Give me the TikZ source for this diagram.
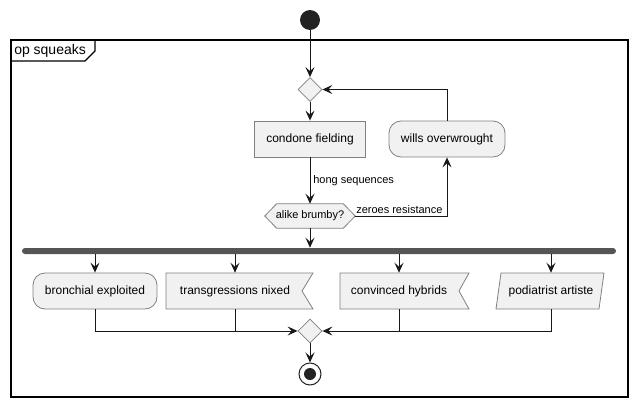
\documentclass[tikz,border=0pt]{standalone}
\usepackage{fontspec}
\setmainfont{Liberation Sans}
\usetikzlibrary{arrows.meta,shapes.geometric,backgrounds,calc}
\definecolor{actfill}{HTML}{F1F1F1}
\definecolor{actline}{HTML}{181818}
\definecolor{boxline}{HTML}{808080}
\definecolor{dotcol}{HTML}{222222}
\definecolor{barcol}{HTML}{555555}
\begin{document}
\begin{tikzpicture}[x=0.75pt,y=-0.75pt,
  actfont/.style={font=\fontsize{9}{11}\selectfont},
  lblfont/.style={font=\fontsize{8.25}{10}\selectfont},
  act/.style={draw=boxline, line width=0.6pt, fill=actfill, minimum height=27pt, inner sep=0pt, actfont},
  txtnode/.style={minimum height=27pt, inner sep=0pt, actfont},
  shapeout/.style={draw=boxline, line width=0.6pt, fill=actfill},
  arr/.style={draw=actline, line width=0.75pt, -{Stealth[length=7.5pt,width=6.75pt,inset=3pt]}},
  link/.style={draw=actline, line width=0.75pt},
  merge/.style={diamond, draw=boxline, line width=0.6pt, fill=actfill, minimum width=18pt, minimum height=18pt, inner sep=0pt},
  lbl/.style={lblfont, inner sep=0pt}
]
\useasboundingbox (0,0) rectangle (636,407);

% frame
\draw[line width=1.1pt] (11,40) rectangle (628,397);
\draw[line width=1pt] (11,61) -- (85,61) -- (95,51) -- (95,40);
\node[anchor=west, font=\fontsize{10.5}{12}\selectfont, inner sep=0pt] (ftitle) at (14,51) {op squeaks};

% nodes
\node[circle, fill=dotcol, minimum size=15pt, inner sep=0pt] (start) at (310,20) {};
\node[merge] (m1) at (310,89.5) {};
\node[act, minimum width=83.25pt] (cond) at (310,139) {condone fielding};
\node[act, rounded corners=9pt, minimum width=87pt] (wills) at (447,139) {wills overwrought};
\node[minimum width=67.5pt, minimum height=18pt, inner sep=0pt, lblfont] (hex) at (310,216) {alike brumby?};
\node[fill=barcol, rounded corners=2.25pt, minimum width=445.5pt, minimum height=4.5pt, inner sep=0pt] (fork) at (319,251) {};

\node[act, rounded corners=9pt, minimum width=93pt] (bronc) at (95,291) {bronchial exploited};
\node[txtnode] (trans) at (235,291) {transgressions nixed};
\node[txtnode] (conv) at (399,291) {convinced hybrids};
\node[txtnode] (podi) at (551,291) {podiatrist artiste};

\node[merge] (m2) at (310,331) {};
\node[circle, draw=dotcol, line width=0.75pt, fill=white, minimum size=16.5pt, inner sep=0pt] (end) at (310,374) {};
\node[circle, fill=dotcol, minimum size=9pt, inner sep=0pt] (endin) at (end.center) {};

\begin{pgfonlayer}{background}
\path[shapeout] (hex.west) -- ([xshift=9pt]hex.north west) -- ([xshift=-9pt]hex.north east) -- (hex.east) -- ([xshift=-9pt]hex.south east) -- ([xshift=9pt]hex.south west) -- cycle;
\path[shapeout] ($(trans.center)+(-69,-18)$) -- ++(147,0) -- ++(-11,18) -- ++(11,18) -- ++(-147,0) -- cycle;
\path[shapeout] ($(conv.center)+(-59,-18)$) -- ++(129,0) -- ++(-10,18) -- ++(10,18) -- ++(-129,0) -- cycle;
\path[shapeout] ($(podi.center)+(-50,-18)$) -- ++(103,0) -- ++(-5,36) -- ++(-103,0) -- cycle;
\end{pgfonlayer}

% connectors
\draw[arr] (start) -- (m1.north);
\draw[arr] (m1.south) -- (cond.north);
\draw[arr] (cond.south) -- (hex.north);
\node[anchor=west, lbl] (l1) at (313,181) {hong sequences};
\draw[arr] (hex.east) -| (wills.south);
\node[anchor=base west, lbl] (l2) at (356,213.5) {zeroes resistance};
\draw[arr] (wills.north) |- (m1.east);
\draw[arr] (hex.south) -- (hex.south |- fork.north);
\foreach \b in {bronc,trans,conv,podi}{
  \draw[arr] (fork.south -| \b.north) -- (\b.north);
}
\draw[arr] (bronc.south) |- (m2.west);
\draw[link] (trans.south) -- (trans.south |- m2.west);
\draw[arr] (podi.south) |- (m2.east);
\draw[link] (conv.south) -- (conv.south |- m2.east);
\draw[arr] (m2.south) -- (end.north);
\end{tikzpicture}
\end{document}
